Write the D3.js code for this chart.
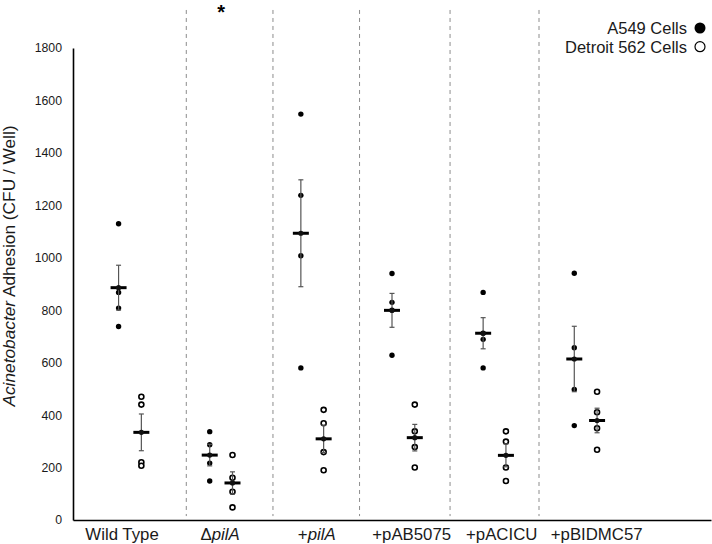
<!DOCTYPE html>
<html><head><meta charset="utf-8">
<script src="https://cdn.jsdelivr.net/npm/d3@7/dist/d3.min.js"></script>
<style>body{margin:0;background:#fff}svg{display:block;font-family:Arial,"Liberation Sans",sans-serif}</style>
</head><body><svg id="c" width="712" height="544"></svg>
<script>
// ---- data ----
const categories = ["Wild Type", "ΔpilA", "+pilA", "+pAB5075", "+pACICU", "+pBIDMC57"];
const a549 = [
  [1130, 868, 808, 738],
  [337, 287, 217, 149],
  [1548, 1238, 1008, 580],
  [940, 830, 800, 628],
  [868, 712, 689, 580],
  [941, 657, 498, 360]
];
const detroit = [
  [470, 440, 220, 207],
  [248, 161, 108, 48],
  [420, 369, 259, 190],
  [440, 338, 278, 200],
  [338, 299, 200, 149],
  [489, 411, 350, 268]
];
const yTicks = [0, 200, 400, 600, 800, 1000, 1200, 1400, 1600, 1800];
const labelPos = [1.038, 2.113, 3.174, 4.216, 5.204, 6.246];
const dividerPos = [1.743, 2.694, 3.644, 4.637, 5.613];
const seriesNames = ["A549 Cells", "Detroit 562 Cells"];

// ---- layout ----
const svg = d3.select("#c");
const x = d3.scaleLinear().domain([0.5, 7.5]).range([73, 711]);
const y = d3.scaleLinear().domain([0, 1800]).range([520, 48]);
const offset = 0.25;

// dividers
svg.append("g").selectAll("line").data(dividerPos).join("line")
  .attr("x1", d => x(d)).attr("x2", d => x(d))
  .attr("y1", y(1945)).attr("y2", y(15))
  .attr("stroke", "#8c8c8c").attr("stroke-width", 1).attr("stroke-dasharray", "4,4");

// y axis
const yAxis = d3.axisLeft(y).tickValues(yTicks).tickSize(0).tickPadding(11).tickFormat(d3.format("d"));
const gy = svg.append("g").attr("transform", `translate(${x(0.5)},0)`).call(yAxis);
gy.select(".domain").attr("stroke", "#000").attr("stroke-width", 1.6);
gy.selectAll("text").attr("font-size", 12.3).attr("fill", "#1a1a1a").attr("font-family", "Arial, 'Liberation Sans', sans-serif");

// x axis line
const xAxis = d3.axisBottom(x).tickValues([]).tickSize(0);
const gx = svg.append("g").attr("transform", `translate(0,${y(0)})`).call(xAxis);
gx.select(".domain").attr("stroke", "#000").attr("stroke-width", 1.6);

// category labels
const lab = svg.append("g").selectAll("text").data(categories).join("text")
  .attr("x", (d, i) => x(labelPos[i])).attr("y", 540)
  .attr("text-anchor", "middle").attr("font-size", 16.8).attr("fill", "#1a1a1a");
lab.each(function(d) {
  const t = d3.select(this);
  const m = d.match(/^([Δ+])(pilA)$/);
  if (m) {
    t.append("tspan").text(m[1]);
    t.append("tspan").attr("font-style", "italic").text(m[2]);
  } else t.text(d);
});

// y title
const yt = svg.append("text").attr("transform", "translate(15,266) rotate(-90)")
  .attr("text-anchor", "middle").attr("font-size", 17.3).attr("fill", "#1a1a1a");
yt.append("tspan").attr("font-style", "italic").text("Acinetobacter");
yt.append("tspan").text(" Adhesion (CFU / Well)");

// asterisk
svg.append("text").attr("x", x(2.125)).attr("y", 18.5).attr("text-anchor", "middle")
  .attr("font-size", 20).attr("font-weight", "bold").attr("fill", "#000").text("*");

// points
function drawSeries(data, dx, filled) {
  const g = svg.append("g");
  data.forEach((vals, i) => {
    g.selectAll(null).data(vals).join("circle")
      .attr("cx", x(i + 1 + dx)).attr("cy", v => y(v))
      .attr("r", filled ? 2.7 : 2.5)
      .attr("fill", filled ? "#000" : "#fff")
      .attr("stroke", "#000").attr("stroke-width", filled ? 0 : 1.6);
  });
}
drawSeries(a549, 0, true);
drawSeries(detroit, offset, false);

// mean and SEM
function drawStats(data, dx) {
  const g = svg.append("g");
  data.forEach((vals, i) => {
    const m = d3.mean(vals);
    const sem = d3.deviation(vals) / Math.sqrt(vals.length);
    const cx = x(i + 1 + dx);
    g.append("line").attr("x1", cx).attr("x2", cx).attr("y1", y(m + sem)).attr("y2", y(m - sem))
      .attr("stroke", "#555").attr("stroke-width", 1.2);
    [m + sem, m - sem].forEach(v => g.append("line").attr("x1", cx - 2.5).attr("x2", cx + 2.5)
      .attr("y1", y(v)).attr("y2", y(v)).attr("stroke", "#555").attr("stroke-width", 1.2));
    g.append("line").attr("x1", cx - 8).attr("x2", cx + 8).attr("y1", y(m)).attr("y2", y(m))
      .attr("stroke", "#000").attr("stroke-width", 3);
    g.append("circle").attr("cx", cx).attr("cy", y(m)).attr("r", 2.6).attr("fill", "#111");
  });
}
drawStats(a549, 0);
drawStats(detroit, offset);

// legend
const lg = svg.append("g");
seriesNames.forEach((s, i) => {
  const cy = 28 + i * 18.7;
  lg.append("text").attr("x", 687).attr("y", cy + 5.8).attr("text-anchor", "end")
    .attr("font-size", 16.5).attr("fill", "#1a1a1a").text(s);
  lg.append("circle").attr("cx", 700).attr("cy", cy).attr("r", i === 0 ? 5.5 : 5)
    .attr("fill", i === 0 ? "#000" : "#fff").attr("stroke", "#000").attr("stroke-width", i === 0 ? 0 : 1.2);
});
</script></body></html>
